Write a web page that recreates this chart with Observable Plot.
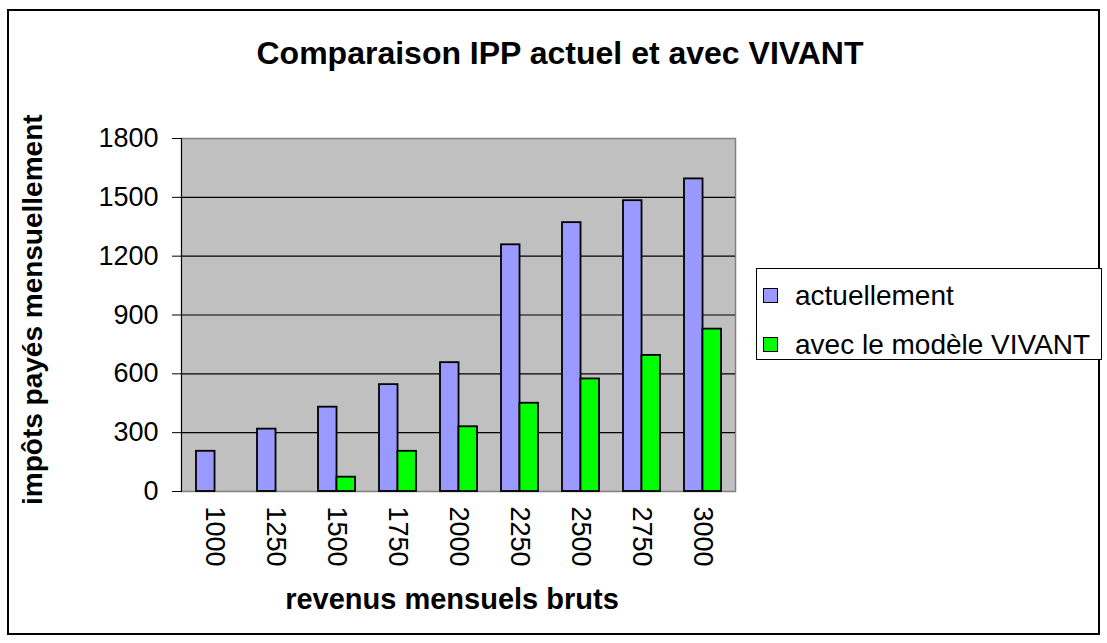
<!DOCTYPE html>
<html>
<head>
<meta charset="utf-8">
<script src="https://cdn.jsdelivr.net/npm/d3@7"></script>
<script src="https://cdn.jsdelivr.net/npm/@observablehq/plot@0.6"></script>
<style>
  html, body { margin: 0; padding: 0; background: #fff; }
  #wrap { position: relative; width: 1107px; height: 643px; overflow: hidden; font-family: Arial, "Liberation Sans", sans-serif; }
  #border { position: absolute; left: 7px; top: 9px; width: 1093px; height: 626px; border: 2px solid #000; box-sizing: border-box; }
  #title { position: absolute; left: 0; width: 1120px; top: 37px; text-align: center; font-weight: bold; font-size: 32px; line-height: 1; color: #000; white-space: nowrap; }
  #chart { position: absolute; left: 0; top: 0; }
  #ylab { position: absolute; left: 17px; top: 110px; width: 40px; height: 395px; }
  #ylab span { position: absolute; left: 0; top: 395px; transform-origin: 0 0; transform: rotate(-90deg); white-space: nowrap; font-weight: bold; font-size: 28px; line-height: 32px; }
  #xlab { position: absolute; left: 0; width: 904px; top: 585px; text-align: center; font-weight: bold; font-size: 29px; line-height: 1; white-space: nowrap; }
  #legend { position: absolute; left: 756px; top: 268px; width: 346px; height: 92px; border: 1px solid #000; box-sizing: border-box; background: #fff; }
  .sw { position: absolute; left: 6px; width: 15px; height: 15px; border: 1.5px solid #000; box-sizing: border-box; }
  .lt { position: absolute; left: 38px; font-size: 28px; line-height: 1; white-space: nowrap; }
</style>
</head>
<body>
<div id="wrap">
  <div id="border"></div>
  <div id="title">Comparaison IPP actuel et avec VIVANT</div>
  <div id="chart"></div>
  <div id="ylab"><span>impôts payés mensuellement</span></div>
  <div id="xlab">revenus mensuels bruts</div>
  <div id="legend"></div>
</div>
<script>
const revenus = ["1000", "1250", "1500", "1750", "2000", "2250", "2500", "2750", "3000"];
const actuellement = [205, 318, 430, 545, 657, 1258, 1371, 1483, 1594];
const vivant = [0, 0, 73, 205, 330, 450, 574, 694, 828];
const seriesNames = ["actuellement", "avec le modèle VIVANT"];
const seriesColors = ["#9999ff", "#00ff00"];
const yTicks = [0, 300, 600, 900, 1200, 1500, 1800];
const gridTicks = [300, 600, 900, 1200, 1500];

const W = 1107, H = 643;
const mL = 181, mR = 1107 - 735, mT = 138, mB = 643 - 491;
const padIn = 0.4, padOut = 0.2;
const step = (W - mL - mR) / (revenus.length - padIn + 2 * padOut);
const bw = step * (1 - padIn);

const dataA = revenus.map((r, i) => ({rev: r, val: actuellement[i]}));
const dataV = revenus.map((r, i) => ({rev: r, val: vivant[i]})).filter(d => d.val > 0);

const chart = Plot.plot({
  width: W, height: H,
  marginLeft: mL, marginRight: mR, marginTop: mT, marginBottom: mB,
  style: {fontFamily: "Arial, 'Liberation Sans', sans-serif", background: "transparent", color: "#000"},
  x: {domain: revenus, paddingInner: padIn, paddingOuter: padOut, label: null},
  y: {domain: [0, 1800], label: null},
  marks: [
    Plot.frame({fill: "#c0c0c0", stroke: "#808080", strokeWidth: 1.5}),
    Plot.ruleY(gridTicks, {stroke: "#000", strokeWidth: 1.2}),
    Plot.barY(dataA, {x: "rev", y: "val", fill: seriesColors[0], stroke: "#000", strokeWidth: 1.8, insetRight: bw / 2}),
    Plot.barY(dataV, {x: "rev", y: "val", fill: seriesColors[1], stroke: "#000", strokeWidth: 1.8, insetLeft: bw / 2}),
    Plot.frame({anchor: "left", stroke: "#000", strokeWidth: 1}),
    Plot.axisY({ticks: yTicks, tickFormat: d => String(d), tickSize: 9, tickPadding: 14, fontSize: 27, label: null, stroke: "#000", strokeWidth: 1}),
    Plot.axisX({tickSize: 0, tickRotate: 90, tickPadding: 15, fontSize: 27, label: null})
  ]
});
document.getElementById("chart").appendChild(chart);

const legend = document.getElementById("legend");
const swTops = [19, 68];
const txtTops = [13, 62];
seriesNames.forEach((name, i) => {
  const sw = document.createElement("div");
  sw.className = "sw";
  sw.style.top = swTops[i] + "px";
  sw.style.background = seriesColors[i];
  legend.appendChild(sw);
  const t = document.createElement("div");
  t.className = "lt";
  t.style.top = txtTops[i] + "px";
  t.textContent = name;
  legend.appendChild(t);
});
</script>
</body>
</html>
